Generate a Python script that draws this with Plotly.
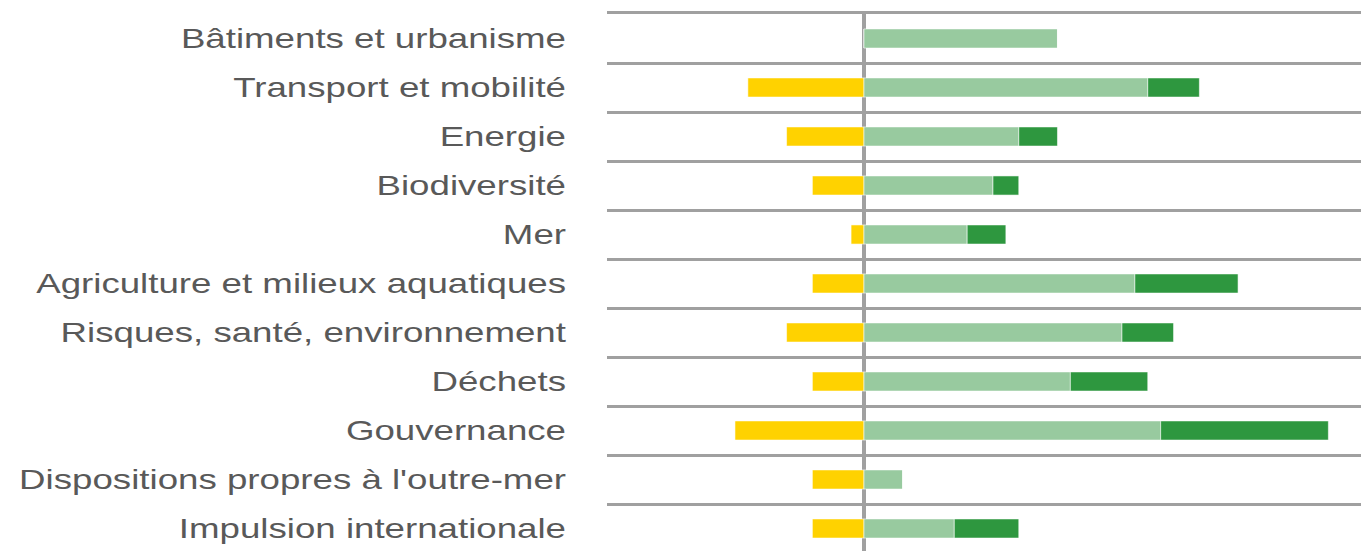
import plotly.graph_objects as go

categories = [
    "Bâtiments et urbanisme",
    "Transport et mobilité",
    "Energie",
    "Biodiversité",
    "Mer",
    "Agriculture et milieux aquatiques",
    "Risques, santé, environnement",
    "Déchets",
    "Gouvernance",
    "Dispositions propres à l'outre-mer",
    "Impulsion internationale",
]
negative = [0, -9, -6, -4, -1, -4, -6, -4, -10, -4, -4]
positive_light = [15, 22, 12, 10, 8, 21, 20, 16, 23, 3, 7]
positive_dark = [0, 4, 3, 2, 3, 8, 4, 6, 13, 0, 5]

YELLOW = "#FFD200"
LIGHT_GREEN = "#98CA9F"
DARK_GREEN = "#2E973F"
GRID = "#A0A0A0"
TEXT = "#595959"

edge = dict(color="rgba(255,255,255,0.55)", width=1)

fig = go.Figure()
fig.add_trace(go.Bar(y=categories, x=negative, orientation="h",
                     marker=dict(color=YELLOW, line=edge), showlegend=False))
fig.add_trace(go.Bar(y=categories, x=positive_light, orientation="h",
                     marker=dict(color=LIGHT_GREEN, line=edge), showlegend=False))
fig.add_trace(go.Bar(y=categories, x=positive_dark, orientation="h",
                     marker=dict(color=DARK_GREEN, line=edge), showlegend=False))

fig.update_layout(
    template="none",
    width=1361,
    height=551,
    autosize=False,
    margin=dict(l=607, r=0, t=14, b=0, pad=0),
    barmode="relative",
    bargap=0.61,
    paper_bgcolor="white",
    plot_bgcolor="white",
    font=dict(family="Liberation Sans, Arial, sans-serif", size=28, color=TEXT),
    xaxis=dict(
        range=[-19.92, 38.53],
        side="top",
        showgrid=False,
        showticklabels=False,
        ticks="",
        zeroline=True,
        zerolinecolor=GRID,
        zerolinewidth=4,
        showline=True,
        linecolor=GRID,
        linewidth=2.5,
        automargin=False,
        fixedrange=True,
    ),
    yaxis=dict(
        type="category",
        categoryorder="array",
        categoryarray=categories,
        range=[10.459, -0.5],
        tickson="boundaries",
        showgrid=True,
        gridcolor=GRID,
        gridwidth=2.5,
        ticks="",
        ticklabelstandoff=40,
        zeroline=False,
        showline=False,
        automargin=False,
        fixedrange=True,
        tickfont=dict(family="Liberation Sans, Arial, sans-serif", size=28, color=TEXT),
    ),
)

post_script = """
document.documentElement.style.margin = '0';
document.documentElement.style.overflow = 'hidden';
document.body.style.margin = '0';
document.body.style.padding = '0';
document.body.style.overflow = 'hidden';
var gd = document.getElementById('{plot_id}');
function stretchLabels() {
  var texts = gd.querySelectorAll('g.ytick text');
  texts.forEach(function (t) {
    if (t.getAttribute('data-stretched')) return;
    var bb = t.getBBox();
    var xr = bb.x + bb.width;
    var tr = t.getAttribute('transform') || '';
    t.setAttribute('transform', tr + ' translate(' + xr + ',0) scale(1.31,1) translate(' + (-xr) + ',0)');
    t.setAttribute('data-stretched', '1');
  });
}
stretchLabels();
"""

fig.write_html("out.html", config={"displayModeBar": False, "responsive": False},
               post_script=post_script)
